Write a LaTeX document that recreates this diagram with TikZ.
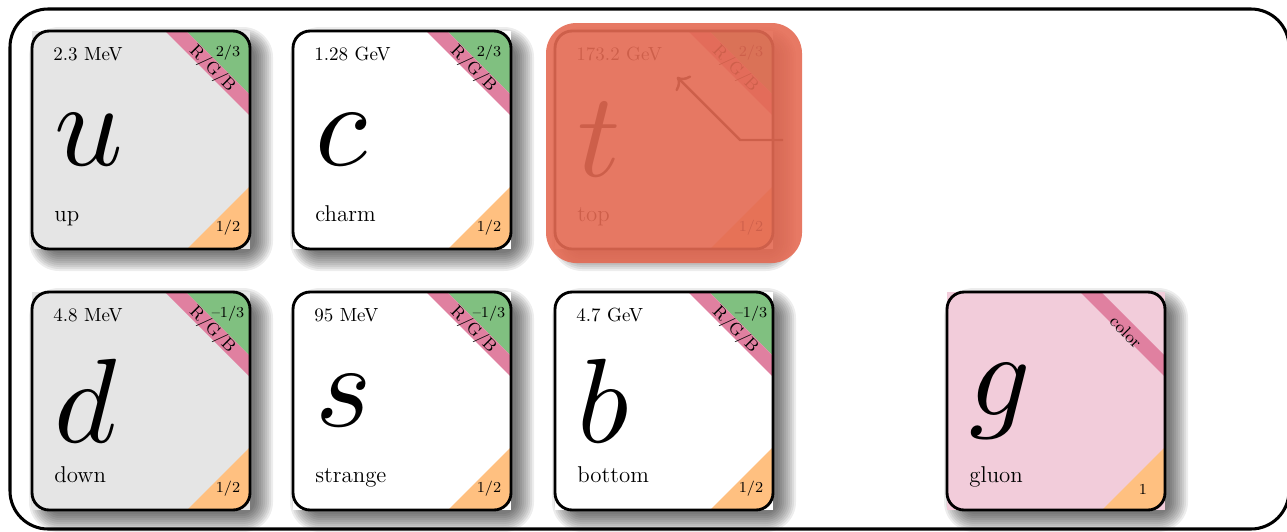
\documentclass[tikz,border=0pt]{standalone}
\usepackage{graphicx}
\usetikzlibrary{arrows.meta}
\definecolor{qgreen}{RGB}{128,192,128}
\definecolor{qpink}{RGB}{224,128,160}
\definecolor{qorange}{RGB}{255,192,128}
\definecolor{gluonpink}{RGB}{242,204,218}
\definecolor{cardgray}{RGB}{229,229,229}
\definecolor{redov}{RGB}{228,106,83}
\tikzset{
 cardnode/.style={rectangle, minimum width=114.45pt, minimum height=114.45pt, inner sep=0pt, outer sep=0pt},
 cardline/.style={line width=1.5pt, rounded corners=9pt},
 masstext/.style={anchor=base west, inner sep=0pt, font=\normalsize},
 nametext/.style={anchor=base west, inner sep=0pt, font=\large},
 bigletter/.style={anchor=west, inner sep=0pt},
 cornertext/.style={inner sep=0pt, font=\footnotesize},
 colortext/.style={inner sep=0pt, font=\small, rotate=-45},
 shadowlayer/.style={black, opacity=0.07},
 pointer/.style={line width=1.3pt, -{To[scale=1.2]}},
}
% #1 name, #2 x, #3 y, #4 bg, #5 mass, #6 letter, #7 label, #8 charge, #9 spin
\newcommand\particle[9]{%
\begin{scope}[shift={(#2,#3)}]
 \def\tmpcharge{#8}\def\tmpmass{#5}%
 \foreach \g in {13,11,...,-5}{%
   \pgfmathsetmacro\rr{9+0.525*\g}%
   \fill[shadowlayer, rounded corners=\rr pt] (10-\g,9-\g) rectangle (228+\g,227+\g);}
 \node[cardnode, fill=#4] (#1) at (109,109) {};
 \begin{scope}
  \clip[rounded corners=9pt] (0,0) rectangle (218,218);
  \ifx\tmpcharge\empty\else
   \fill[qgreen] (218,0) +(-64,0) -- +(0,0) -- +(0,64) -- cycle;
  \fi
  \fill[qpink] (218,0) +(-85,0) -- +(-64,0) -- +(0,64) -- +(0,85) -- cycle;
  \fill[qorange] (218,218) +(-63,0) -- +(0,-63) -- +(0,0) -- cycle;
 \end{scope}
 \draw[cardline] (0,0) rectangle (218,218);
 \ifx\tmpmass\empty\else
  \node[masstext] (#1-mass) at (21,29) {#5};
 \fi
 \node[bigletter] (#1-sym) at (22,109) {\scalebox{6.3}{$#6$}};
 \node[nametext] (#1-name) at (22,190) {#7};
 \ifx\tmpcharge\empty
  \node[colortext] (#1-color) at (179,40) {color};
 \else
  \node[cornertext] (#1-charge) at (196,22) {#8};
  \node[colortext] (#1-color) at (180,38) {R/G/B};
 \fi
 \node[cornertext] (#1-spin) at (196,197) {#9};
\end{scope}}
\begin{document}
\begin{tikzpicture}[x=0.525pt, y=-0.525pt]
\useasboundingbox (0,0) rectangle (1287,531);
\draw[line width=1.6pt, rounded corners=20pt] (10,9) rectangle (1289,529);
\particle{u}{32}{31}{cardgray}{2.3 MeV}{u}{up}{2/3}{1/2}
\particle{c}{293}{31}{white}{1.28 GeV}{c}{charm}{2/3}{1/2}
\particle{t}{555}{31}{white}{173.2 GeV}{t}{top}{2/3}{1/2}
\particle{d}{32}{292}{cardgray}{4.8 MeV}{d}{down}{--1/3}{1/2}
\particle{s}{293}{292}{white}{95 MeV}{s}{strange}{--1/3}{1/2}
\particle{b}{555}{292}{white}{4.7 GeV}{b}{bottom}{--1/3}{1/2}
\particle{g}{947}{292}{gluonpink}{}{g}{gluon}{}{1}
\coordinate (arrowstart) at (783,140);
\coordinate (arrowbend) at (740,140);
\coordinate (arrowtip) at (677,77);
\draw[pointer] (arrowstart) -- (arrowbend) -- (arrowtip);
\fill[redov, opacity=0.9, rounded corners=16pt] (546,23) rectangle (802,263);
\end{tikzpicture}
\end{document}
